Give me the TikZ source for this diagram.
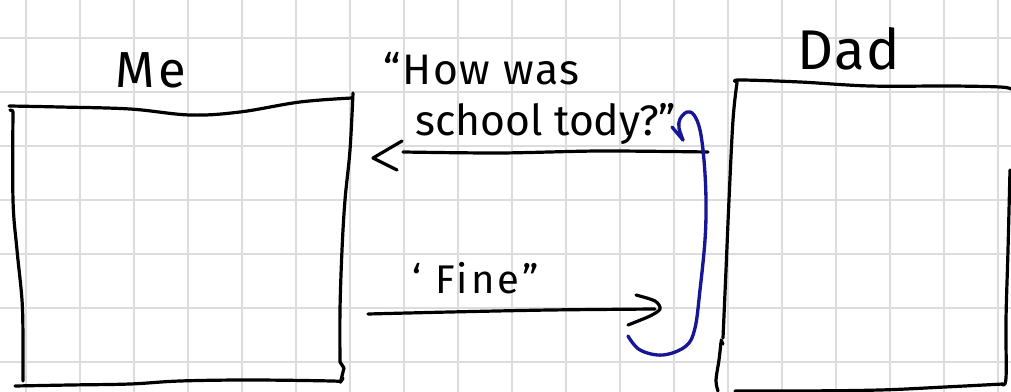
\documentclass[tikz,border=0pt]{standalone}
\usepackage{fontspec}
\setmainfont{Fira Sans}
\definecolor{gridgray}{RGB}{220,220,220}
\definecolor{bluepen}{RGB}{22,22,150}
\begin{document}
\begin{tikzpicture}[x=0.75pt,y=-0.75pt,
  gridline/.style={draw=gridgray,line width=1.2pt},
  ink/.style={draw=black,line width=2.4pt,line cap=round,line join=round},
  blueink/.style={draw=bluepen,line width=2.5pt,line cap=round,line join=round},
  hand/.style={anchor=base west,inner sep=0pt,text=black}]
\useasboundingbox (0,0) rectangle (1011,392);
\fill[white] (0,0) rectangle (1011,392);
% grid
\foreach \gx in {26,80,...,998} \draw[gridline] (\gx,0) -- (\gx,392);
\foreach \gy in {38,92,...,362} \draw[gridline] (0,\gy) -- (1011,\gy);

% Me box
\draw[ink] plot[smooth,tension=0.6] coordinates {(9,106)(60,107)(130,109)(190,115)(240,112)(300,102)(352,98)};
\draw[ink] plot[smooth,tension=0.6] coordinates {(353,93)(350,150)(345,200)(342,250)(340,310)(340,362)};
\draw[ink] (340,362) -- (344,368) -- (341,380);
\draw[ink] plot[smooth,tension=0.6] coordinates {(15,386)(70,385)(130,384)(180,381)(250,380)(332,381)(340,382)(343,378)};
\draw[ink] (10,110) -- (13,111);
\draw[ink] plot[smooth,tension=0.6] coordinates {(13,112)(13,200)(17,250)(22,300)(23,340)(23,381)};

% Dad box
\draw[ink] plot[smooth,tension=0.6] coordinates {(737,82)(740,80)(800,82)(870,86)(950,86)(1000,87)(1011,89)};
\draw[ink] plot[smooth,tension=0.6] coordinates {(737,83)(733,120)(729,200)(726,270)(723,338)};
\draw[ink] (721,340) -- (723,344);
\draw[ink] plot[smooth,tension=0.6] coordinates {(721,342)(719,360)(716,380)(718,391)};
\draw[ink] plot[smooth,tension=0.6] coordinates {(1010,170)(1008,250)(1006,320)(1006,378)(1002,384)};
\draw[ink] plot[smooth,tension=0.6] coordinates {(735,391)(800,391)(880,390)(945,387)(1003,384)};

% labels
\node[hand,font=\fontsize{38}{40}\selectfont\addfontfeature{LetterSpace=8}] (me) at (115,88) {Me};
\node[hand,font=\fontsize{42}{44}\selectfont\addfontfeature{LetterSpace=3}] (dad) at (797,70) {Dad};
\node[hand,font=\fontsize{32}{34}\selectfont\addfontfeature{LetterSpace=4}] (q1) at (383,85) {“How was};
\node[hand,font=\fontsize{32}{34}\selectfont] (q2) at (415,136) {school tody?”};
\node[hand,font=\fontsize{30}{32}\selectfont\addfontfeature{LetterSpace=8}] (fine) at (412,293) {‘ Fine”};

% arrow Dad -> Me (question)
\coordinate (a1s) at (708,152);
\coordinate (a1e) at (403,152);
\coordinate (a1t) at (373,158);
\draw[ink] plot[smooth,tension=0.5] coordinates {(a1s)(600,151)(500,153)(a1e)};
\draw[ink] (402,141) -- (a1t) -- (397,170);

% arrow Me -> Dad (answer)
\coordinate (a2s) at (368,314);
\coordinate (a2t) at (660,309);
\draw[ink] plot[smooth,tension=0.5] coordinates {(a2s)(450,312)(550,310)(655,309)};
\draw[ink] plot[smooth,tension=0.5] coordinates {(636,295)(655,301)(a2t)(650,316)(628,325)};

% blue loop
\coordinate (bs) at (628,336);
\coordinate (be) at (683,140);
\draw[blueink] plot[smooth,tension=0.6] coordinates {(bs)(640,350)(663,355)(686,346)(695,328)(700,290)(705,240)(706,200)(704,160)(700,130)(694,115)(687,112)(680,119)(679,128)(be)};
\draw[blueink] (672,127) -- (be);
\end{tikzpicture}
\end{document}
